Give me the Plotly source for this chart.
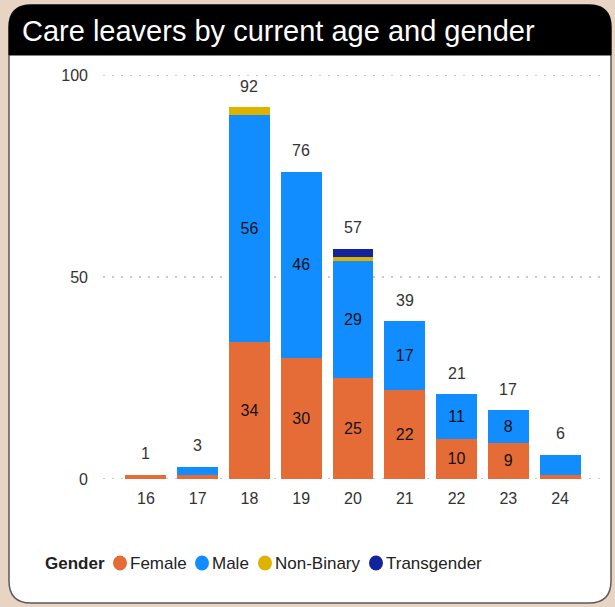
import plotly.graph_objects as go

# data
ages = ["16", "17", "18", "19", "20", "21", "22", "23", "24"]
female = [1, 1, 34, 30, 25, 22, 10, 9, 1]
male = [0, 2, 56, 46, 29, 17, 11, 8, 5]
non_binary = [0, 0, 2, 0, 1, 0, 0, 0, 0]
transgender = [0, 0, 0, 0, 2, 0, 0, 0, 0]

series = [
    ("Female", female, "#E66C37"),
    ("Male", male, "#118DFF"),
    ("Non-Binary", non_binary, "#DDB300"),
    ("Transgender", transgender, "#12239E"),
]

totals = [sum(v) for v in zip(female, male, non_binary, transgender)]

# constants
W, H = 615, 607
ML, MR, MT, MB = 120, 29, 75, 128
PW = W - ML - MR
PH = H - MT - MB
FONT = "Arial, Liberation Sans, sans-serif"
LEGEND_X = [113, 195, 258, 369]   # left pixel of each legend circle
LEGEND_Y = 563


def px(x):
    return (x - ML) / PW


def py(y):
    return (H - MB - y) / PH


def rounded(x0, y0, x1, y1, r, top_only=False):
    # svg path in paper coords, y0 is top pixel
    p = "M %f,%f " % (px(x0), py(y0 + r))
    p += "Q %f,%f %f,%f " % (px(x0), py(y0), px(x0 + r), py(y0))
    p += "L %f,%f " % (px(x1 - r), py(y0))
    p += "Q %f,%f %f,%f " % (px(x1), py(y0), px(x1), py(y0 + r))
    if top_only:
        p += "L %f,%f L %f,%f Z" % (px(x1), py(y1), px(x0), py(y1))
    else:
        p += "L %f,%f " % (px(x1), py(y1 - r))
        p += "Q %f,%f %f,%f " % (px(x1), py(y1), px(x1 - r), py(y1))
        p += "L %f,%f " % (px(x0 + r), py(y1))
        p += "Q %f,%f %f,%f Z" % (px(x0), py(y1), px(x0), py(y1 - r))
    return p


fig = go.Figure()

for name, vals, col in series:
    fig.add_trace(go.Bar(
        x=ages, y=vals, name=name, marker_color=col, marker_line_width=0,
        text=[str(v) if v >= 8 else "" for v in vals],
        textposition="inside", insidetextanchor="middle", textangle=0,
        textfont=dict(color="#111111", size=16, family=FONT),
        constraintext="none", showlegend=False, hoverinfo="skip",
    ))

shapes = [
    dict(type="path", xref="paper", yref="paper", layer="below",
         path=rounded(9, 5, 611, 603, 22), fillcolor="white",
         line=dict(color="#5a5a5a", width=1.5)),
    dict(type="path", xref="paper", yref="paper", layer="below",
         path=rounded(9, 5, 611, 55, 22, top_only=True), fillcolor="black",
         line=dict(color="black", width=1)),
]

# dotted gridlines
for v in [0, 50, 100]:
    shapes.append(dict(type="line", xref="paper", yref="y", layer="below",
                       x0=px(103), x1=px(600), y0=v, y1=v,
                       line=dict(color="#c8c8c8", width=2, dash="2px,7px")))

annotations = [dict(
    text="Care leavers by current age and gender", xref="paper", yref="paper",
    x=px(20), y=py(31), xanchor="left", yanchor="middle", showarrow=False,
    font=dict(color="white", size=29, family=FONT),
)]

# total labels above each bar (category index as x)
for i, t in enumerate(totals):
    annotations.append(dict(
        x=i, y=t, text=str(t), showarrow=False, yanchor="middle", yshift=21,
        font=dict(color="#333333", size=16, family=FONT),
    ))

# legend drawn by hand: circle markers + labels
annotations.append(dict(
    text="<b>Gender</b>", xref="paper", yref="paper", x=px(43), y=py(LEGEND_Y),
    xanchor="left", yanchor="middle", showarrow=False,
    font=dict(color="#222222", size=17, family=FONT),
))
for (name, vals, col), lx in zip(series, LEGEND_X):
    shapes.append(dict(type="circle", xref="paper", yref="paper",
                       x0=px(lx), x1=px(lx + 14), y0=py(LEGEND_Y - 7.5), y1=py(LEGEND_Y + 7.5),
                       fillcolor=col, line=dict(width=0)))
    annotations.append(dict(
        text=name, xref="paper", yref="paper", x=px(lx + 15), y=py(LEGEND_Y),
        xanchor="left", yanchor="middle", showarrow=False,
        font=dict(color="#222222", size=17, family=FONT),
    ))

fig.update_layout(
    width=W, height=H,
    margin=dict(l=ML, r=MR, t=MT, b=MB),
    barmode="stack", bargap=0.21,
    paper_bgcolor="#E9D3C2", plot_bgcolor="rgba(0,0,0,0)",
    font=dict(family=FONT, color="#333333"),
    shapes=shapes, annotations=annotations,
    showlegend=False,
    xaxis=dict(type="category", range=[-0.5, len(ages) - 0.5], showgrid=False,
               showline=False, ticks="", ticklabelstandoff=8,
               tickfont=dict(size=16, color="#333333")),
    yaxis=dict(range=[0, 100], tickvals=[0, 50, 100], showgrid=False,
               zeroline=False, ticklabelstandoff=31,
               tickfont=dict(size=16, color="#333333")),
)

fig.write_html("out.html", config={"displayModeBar": False},
               post_script="document.body.style.margin='0';")
